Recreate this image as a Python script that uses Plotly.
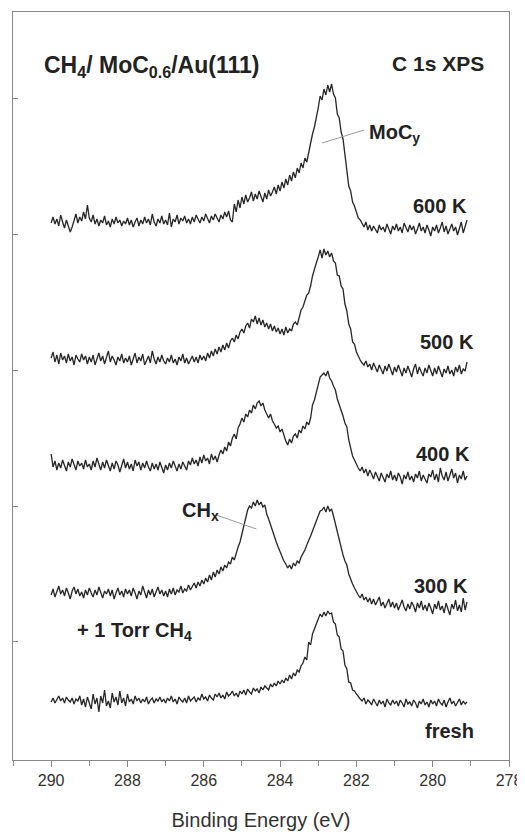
import plotly.graph_objects as go

# Binding energy grid (eV): 290.0 down to 279.1 in 0.05 eV steps
E_START = 290.0
E_STEP = 0.05
N_POINTS = 219
energy = [round(E_START - E_STEP * i, 2) for i in range(N_POINTS)]

# Stacked intensities (arbitrary units)
int_600K = [
    537,543,536,541,534,545,538,532,540,535,528,533,541,546,537,543,539,548,541,555,
    542,538,545,536,541,534,540,537,544,535,539,533,541,536,543,537,540,534,539,536,
    542,535,540,533,538,542,534,540,536,543,537,541,535,546,538,534,541,537,544,536,
    540,535,547,533,541,538,545,536,542,539,544,537,541,536,543,538,545,540,537,543,
    539,546,541,537,544,540,546,542,538,545,541,548,543,549,540,538,556,548,560,552,
    563,556,565,558,562,568,559,566,561,569,563,558,567,561,570,564,568,573,566,575,
    569,578,572,581,575,585,579,588,582,592,587,597,592,602,598,608,615,626,633,642,
    652,664,660,671,665,675,668,676,666,662,646,642,628,621,603,592,574,569,558,554,
    547,542,540,536,533,538,530,535,529,534,531,527,535,530,533,528,536,531,526,534,
    530,536,529,533,527,537,532,528,535,530,534,526,531,537,529,533,527,535,530,524,
    533,529,535,527,532,538,528,534,526,531,536,529,533,525,532,538,527,535,540,
]
int_500K = [
    402,408,398,405,396,407,400,404,397,406,399,403,395,405,401,398,406,400,404,396,
    403,398,405,395,401,407,399,404,396,402,409,398,404,400,395,403,399,406,397,402,
    398,404,395,401,407,397,403,399,406,395,400,404,397,409,401,396,403,398,405,399,
    396,402,398,405,397,401,395,403,399,406,397,402,396,400,404,398,403,397,405,400,
    404,399,407,402,409,404,411,406,413,408,415,410,417,412,419,422,418,425,421,428,
    431,427,434,437,432,441,438,444,436,442,435,440,433,437,431,436,429,434,428,432,
    426,431,425,433,427,431,429,436,438,435,443,450,453,460,465,467,474,484,492,497,
    503,510,502,511,505,509,503,507,499,497,485,484,474,471,456,449,436,431,418,416,
    408,403,400,397,395,399,393,396,390,397,392,388,395,391,386,394,389,396,390,385,
    393,388,395,390,384,392,387,394,389,383,391,396,386,393,388,384,392,387,395,389,
    384,392,386,394,388,383,391,387,394,386,390,384,393,388,395,386,391,389,398,
]
int_400K = [
    306,293,299,290,297,292,300,294,289,298,293,301,295,290,299,294,297,291,300,293,
    296,290,299,293,302,295,290,298,292,300,294,289,297,291,299,295,288,296,301,292,
    298,291,296,289,300,294,298,290,297,292,299,293,289,297,291,296,290,298,293,287,
    295,290,297,292,299,294,289,296,291,298,293,290,299,295,302,296,300,294,303,297,
    305,299,302,296,306,300,304,298,305,310,306,313,309,318,314,322,326,321,332,336,
    342,338,346,343,350,347,355,351,357,359,354,357,350,345,342,346,339,336,332,334,
    328,331,324,319,315,321,317,324,326,322,330,327,334,331,338,335,342,355,360,367,
    375,383,385,387,384,389,382,379,374,370,361,356,349,344,337,333,320,313,304,300,
    295,292,289,293,287,291,284,290,286,281,288,284,279,287,283,278,286,282,289,280,
    285,279,287,283,276,285,281,288,280,284,278,286,282,289,279,285,281,277,286,283,
    290,280,286,278,292,284,280,288,279,285,291,282,287,277,285,281,289,280,284,
]
int_300K = [
    165,171,163,169,174,166,170,164,172,167,161,169,173,166,171,164,168,162,170,165,
    172,167,163,170,165,173,168,162,169,166,171,164,170,161,167,172,165,169,163,171,
    166,170,164,172,167,161,169,165,174,167,162,170,165,171,163,168,173,166,170,164,
    169,163,171,166,172,165,170,168,174,167,171,169,175,170,173,177,172,178,174,180,
    176,182,178,185,180,188,183,190,186,193,189,195,192,198,196,203,200,208,213,218,
    226,236,245,250,254,252,258,254,260,255,258,253,255,246,241,235,229,222,218,213,
    208,204,199,196,192,195,191,197,194,199,197,203,206,210,215,219,224,229,234,238,
    244,249,250,253,248,254,249,251,244,236,226,218,212,205,199,195,186,180,176,172,
    168,165,162,166,160,163,158,162,156,161,155,159,163,154,158,152,157,161,153,158,
    152,157,150,155,160,153,149,156,151,158,154,148,157,152,159,150,155,149,157,152,
    146,156,151,159,150,154,147,157,152,145,156,151,160,149,155,148,162,150,158,
]
int_fresh = [
    58,62,57,61,64,59,62,57,63,60,58,62,56,61,59,64,55,61,53,63,
    58,51,66,56,62,48,64,57,70,54,59,52,67,58,63,55,69,57,62,54,
    66,58,61,56,64,59,62,57,61,58,63,56,60,62,57,61,59,63,58,61,
    57,62,59,64,58,61,56,63,60,58,62,57,64,59,61,63,58,62,60,66,
    61,63,59,65,62,60,66,63,67,62,65,61,68,64,66,69,64,67,63,69,
    66,70,65,71,68,66,72,69,71,67,73,70,74,72,70,76,73,77,74,79,
    76,80,77,82,79,85,81,87,84,90,88,94,97,103,100,118,115,126,131,137,
    141,146,143,148,144,149,146,147,138,136,125,123,111,109,95,91,78,77,70,69,
    66,63,61,59,62,56,60,58,55,61,57,54,60,56,59,53,61,57,55,60,
    56,59,54,60,57,53,61,56,58,54,60,57,52,59,56,61,55,58,53,60,
    56,59,54,61,57,55,60,53,58,62,56,59,54,57,61,55,59,56,58,
]

series = [("600 K", int_600K), ("500 K", int_500K), ("400 K", int_400K),
          ("300 K", int_300K), ("fresh", int_fresh)]

x_ticks = [290, 288, 286, 284, 282, 280, 278]
y_ticks = [119, 254, 390, 526, 662]

FONT = "Arial, Liberation Sans, Helvetica, sans-serif"
TXT = "#222222"

fig = go.Figure()
for name, vals in series:
    fig.add_trace(go.Scatter(x=energy, y=vals, mode="lines", name=name,
                             line=dict(color="#262626", width=1.3),
                             showlegend=False, hoverinfo="skip"))

def ann(text, x, y, xanchor, size=20):
    fig.add_annotation(x=x, y=y, text=text, showarrow=False, xanchor=xanchor,
                       yanchor="middle", xref="x", yref="y",
                       font=dict(family=FONT, size=size, color=TXT))

ann("<b>CH<sub>4</sub>/ MoC<sub>0.6</sub>/Au(111)</b>", 290.25, 694, "left", 23)
ann("<b>C 1s XPS</b>", 278.6, 697, "right", 21)
ann("<b>MoC<sub>y</sub></b>", 281.72, 627, "left")
ann("<b>600 K</b>", 279.05, 554, "right")
ann("<b>500 K</b>", 278.87, 418, "right")
ann("<b>400 K</b>", 278.97, 306, "right")
ann("<b>300 K</b>", 279.03, 174, "right")
ann("<b>fresh</b>", 278.87, 29, "right")
ann("<b>+ 1 Torr CH<sub>4</sub></b>", 289.38, 129, "left")
ann("<b>CH<sub>x</sub></b>", 286.63, 249, "left")

# leader lines
fig.add_shape(type="line", x0=282.90, y0=617, x1=281.80, y1=630,
              line=dict(color="#9a9a9a", width=1))
fig.add_shape(type="line", x0=285.67, y0=245, x1=284.62, y1=231,
              line=dict(color="#9a9a9a", width=1))

# The page body adds an 8 px offset, so the figure is sized to end at the window edge.
fig.update_layout(
    width=517, height=824,
    margin=dict(l=5, r=16, t=4, b=72, autoexpand=False),
    paper_bgcolor="white", plot_bgcolor="white",
    font=dict(family=FONT, color="#333333"),
)
fig.update_xaxes(
    range=[291, 278], tickvals=x_ticks, ticktext=[str(v) for v in x_ticks],
    ticks="outside", ticklen=6, tickcolor="#888888", tickwidth=1,
    minor=dict(dtick=1, tick0=291, ticks="outside", ticklen=5, tickcolor="#888888"),
    showline=True, linecolor="#888888", linewidth=1, mirror=True,
    showgrid=False, zeroline=False, automargin=False,
    tickfont=dict(size=16, color="#333333", family=FONT),
    title=dict(text="Binding Energy (eV)", font=dict(size=20, color="#333333", family=FONT),
               standoff=24),
)
fig.update_yaxes(
    range=[0, 748], tickvals=y_ticks, showticklabels=False,
    ticks="inside", ticklen=5, tickcolor="#888888",
    showline=True, linecolor="#888888", linewidth=1, mirror=True,
    showgrid=False, zeroline=False, automargin=False,
)

fig.write_html("out.html")
